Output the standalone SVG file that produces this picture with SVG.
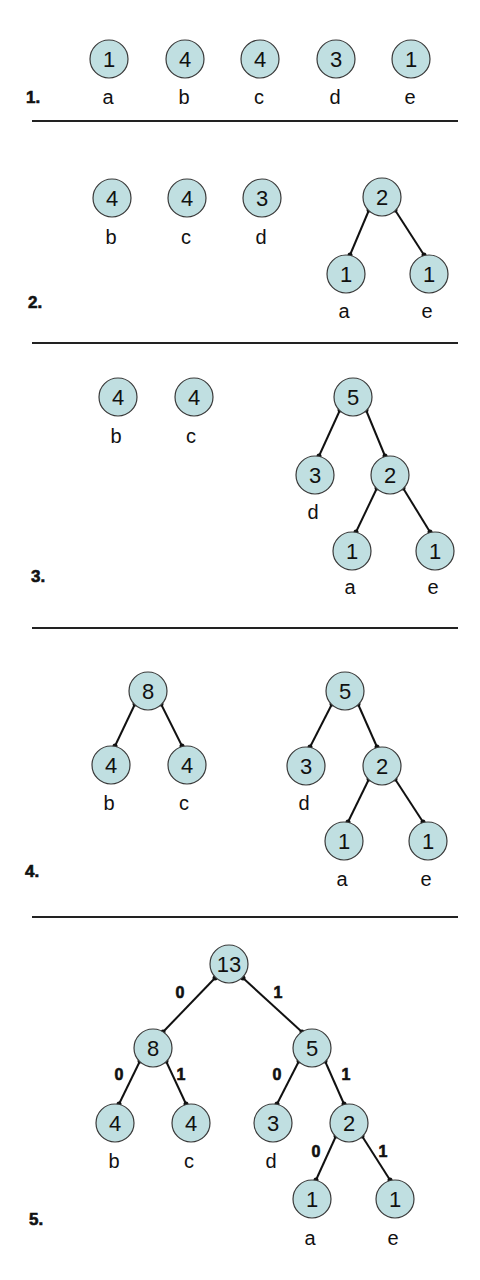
<svg xmlns="http://www.w3.org/2000/svg" width="480" height="1280" viewBox="0 0 480 1280">
<style>
.n circle{fill:#c0dfe1;stroke:#3a3a3a;stroke-width:1.2}
.n text{font-family:"Liberation Sans",Arial,sans-serif;font-size:22px;text-anchor:middle;fill:#111}
.lbl{font-family:"Liberation Sans",Arial,sans-serif;font-size:20px;text-anchor:middle;fill:#111}
.step{font-family:"Liberation Sans",Arial,sans-serif;font-size:17px;font-weight:bold;fill:#111;stroke:#111;stroke-width:0.6}
.bit{font-family:"Liberation Sans",Arial,sans-serif;font-size:16px;font-weight:bold;text-anchor:middle;fill:#111;stroke:#111;stroke-width:0.6}
.sep{stroke:#222;stroke-width:2}
#connectors line{stroke:#111;stroke-width:2}
#connectors circle{fill:#111}
</style>
<rect width="480" height="1280" fill="#fff"/>
<g id="separators">
<line class="sep" x1="32" y1="121" x2="458" y2="121"/>
<line class="sep" x1="32" y1="343" x2="458" y2="343"/>
<line class="sep" x1="32" y1="628" x2="458" y2="628"/>
<line class="sep" x1="32" y1="917" x2="458" y2="917"/>
</g>
<g id="steps">
<text class="step" x="26" y="103">1.</text>
<text class="step" x="28" y="308">2.</text>
<text class="step" x="31" y="582">3.</text>
<text class="step" x="25" y="877">4.</text>
<text class="step" x="29" y="1225">5.</text>
</g>
<g id="connectors">
<line x1="369" y1="210" x2="350" y2="255"/><circle cx="369" cy="210" r="2.5"/><circle cx="350" cy="255" r="2.5"/>
<line x1="395" y1="210" x2="424" y2="255"/><circle cx="395" cy="210" r="2.5"/><circle cx="424" cy="255" r="2.5"/>
<line x1="340" y1="410" x2="319" y2="456"/><circle cx="340" cy="410" r="2.5"/><circle cx="319" cy="456" r="2.5"/>
<line x1="366" y1="410" x2="385" y2="456"/><circle cx="366" cy="410" r="2.5"/><circle cx="385" cy="456" r="2.5"/>
<line x1="377" y1="488" x2="356" y2="532"/><circle cx="377" cy="488" r="2.5"/><circle cx="356" cy="532" r="2.5"/>
<line x1="403" y1="488" x2="430" y2="532"/><circle cx="403" cy="488" r="2.5"/><circle cx="430" cy="532" r="2.5"/>
<line x1="135" y1="704" x2="115" y2="746"/><circle cx="135" cy="704" r="2.5"/><circle cx="115" cy="746" r="2.5"/>
<line x1="161" y1="704" x2="182" y2="746"/><circle cx="161" cy="704" r="2.5"/><circle cx="182" cy="746" r="2.5"/>
<line x1="332" y1="704" x2="310" y2="747"/><circle cx="332" cy="704" r="2.5"/><circle cx="310" cy="747" r="2.5"/>
<line x1="358" y1="704" x2="377" y2="747"/><circle cx="358" cy="704" r="2.5"/><circle cx="377" cy="747" r="2.5"/>
<line x1="369" y1="779" x2="348" y2="822"/><circle cx="369" cy="779" r="2.5"/><circle cx="348" cy="822" r="2.5"/>
<line x1="395" y1="779" x2="423" y2="822"/><circle cx="395" cy="779" r="2.5"/><circle cx="423" cy="822" r="2.5"/>
<line x1="215" y1="978" x2="163" y2="1032"/><circle cx="215" cy="978" r="2.5"/><circle cx="163" cy="1032" r="2.5"/>
<line x1="243" y1="978" x2="302" y2="1032"/><circle cx="243" cy="978" r="2.5"/><circle cx="302" cy="1032" r="2.5"/>
<line x1="140" y1="1061" x2="119" y2="1104"/><circle cx="140" cy="1061" r="2.5"/><circle cx="119" cy="1104" r="2.5"/>
<line x1="166" y1="1061" x2="186" y2="1104"/><circle cx="166" cy="1061" r="2.5"/><circle cx="186" cy="1104" r="2.5"/>
<line x1="299" y1="1061" x2="277" y2="1104"/><circle cx="299" cy="1061" r="2.5"/><circle cx="277" cy="1104" r="2.5"/>
<line x1="325" y1="1061" x2="344" y2="1104"/><circle cx="325" cy="1061" r="2.5"/><circle cx="344" cy="1104" r="2.5"/>
<line x1="336" y1="1136" x2="316" y2="1180"/><circle cx="336" cy="1136" r="2.5"/><circle cx="316" cy="1180" r="2.5"/>
<line x1="362" y1="1136" x2="390" y2="1180"/><circle cx="362" cy="1136" r="2.5"/><circle cx="390" cy="1180" r="2.5"/>
</g>
<!-- Panel 1 -->
<g id="p1a" class="n"><circle cx="109" cy="59" r="19"/><text x="109" y="67">1</text></g>
<g id="p1b" class="n"><circle cx="185" cy="59" r="19"/><text x="185" y="67">4</text></g>
<g id="p1c" class="n"><circle cx="260" cy="59" r="19"/><text x="260" y="67">4</text></g>
<g id="p1d" class="n"><circle cx="336" cy="59" r="19"/><text x="336" y="67">3</text></g>
<g id="p1e" class="n"><circle cx="411" cy="59" r="19"/><text x="411" y="67">1</text></g>
<g id="p1labels">
<text class="lbl" x="108" y="104">a</text><text class="lbl" x="184" y="104">b</text><text class="lbl" x="259" y="104">c</text><text class="lbl" x="335" y="104">d</text><text class="lbl" x="410" y="104">e</text>
</g>
<!-- Panel 2 -->
<g id="p2b" class="n"><circle cx="112" cy="198" r="19"/><text x="112" y="206">4</text></g>
<g id="p2c" class="n"><circle cx="187" cy="198" r="19"/><text x="187" y="206">4</text></g>
<g id="p2d" class="n"><circle cx="262" cy="198" r="19"/><text x="262" y="206">3</text></g>
<g id="p2root" class="n"><circle cx="382" cy="197" r="19"/><text x="382" y="205">2</text></g>
<g id="p2a" class="n"><circle cx="346" cy="274" r="19"/><text x="346" y="282">1</text></g>
<g id="p2e" class="n"><circle cx="429" cy="274" r="19"/><text x="429" y="282">1</text></g>
<g id="p2labels">
<text class="lbl" x="111" y="244">b</text><text class="lbl" x="186" y="244">c</text><text class="lbl" x="261" y="244">d</text>
<text class="lbl" x="344" y="318">a</text><text class="lbl" x="427" y="318">e</text>
</g>
<!-- Panel 3 -->
<g id="p3b" class="n"><circle cx="118" cy="397" r="19"/><text x="118" y="405">4</text></g>
<g id="p3c" class="n"><circle cx="194" cy="397" r="19"/><text x="194" y="405">4</text></g>
<g id="p3root" class="n"><circle cx="353" cy="397" r="19"/><text x="353" y="405">5</text></g>
<g id="p3d" class="n"><circle cx="315" cy="475" r="19"/><text x="315" y="483">3</text></g>
<g id="p3n2" class="n"><circle cx="390" cy="475" r="19"/><text x="390" y="483">2</text></g>
<g id="p3a" class="n"><circle cx="352" cy="551" r="19"/><text x="352" y="559">1</text></g>
<g id="p3e" class="n"><circle cx="435" cy="551" r="19"/><text x="435" y="559">1</text></g>
<g id="p3labels">
<text class="lbl" x="116" y="443">b</text><text class="lbl" x="191" y="443">c</text>
<text class="lbl" x="313" y="519">d</text><text class="lbl" x="350" y="594">a</text><text class="lbl" x="433" y="594">e</text>
</g>
<!-- Panel 4 -->
<g id="p4n8" class="n"><circle cx="148" cy="691" r="19"/><text x="148" y="699">8</text></g>
<g id="p4b" class="n"><circle cx="111" cy="765" r="19"/><text x="111" y="773">4</text></g>
<g id="p4c" class="n"><circle cx="187" cy="765" r="19"/><text x="187" y="773">4</text></g>
<g id="p4root" class="n"><circle cx="345" cy="691" r="19"/><text x="345" y="699">5</text></g>
<g id="p4d" class="n"><circle cx="306" cy="766" r="19"/><text x="306" y="774">3</text></g>
<g id="p4n2" class="n"><circle cx="382" cy="766" r="19"/><text x="382" y="774">2</text></g>
<g id="p4a" class="n"><circle cx="344" cy="841" r="19"/><text x="344" y="849">1</text></g>
<g id="p4e" class="n"><circle cx="428" cy="841" r="19"/><text x="428" y="849">1</text></g>
<g id="p4labels">
<text class="lbl" x="109" y="810">b</text><text class="lbl" x="184" y="810">c</text>
<text class="lbl" x="304" y="810">d</text><text class="lbl" x="342" y="886">a</text><text class="lbl" x="426" y="886">e</text>
</g>
<!-- Panel 5 -->
<g id="p5root" class="n"><circle cx="229" cy="964" r="19"/><text x="229" y="972">13</text></g>
<g id="p5n8" class="n"><circle cx="153" cy="1048" r="19"/><text x="153" y="1056">8</text></g>
<g id="p5n5" class="n"><circle cx="312" cy="1048" r="19"/><text x="312" y="1056">5</text></g>
<g id="p5b" class="n"><circle cx="115" cy="1123" r="19"/><text x="115" y="1131">4</text></g>
<g id="p5c" class="n"><circle cx="191" cy="1123" r="19"/><text x="191" y="1131">4</text></g>
<g id="p5d" class="n"><circle cx="273" cy="1123" r="19"/><text x="273" y="1131">3</text></g>
<g id="p5n2" class="n"><circle cx="349" cy="1123" r="19"/><text x="349" y="1131">2</text></g>
<g id="p5a" class="n"><circle cx="312" cy="1199" r="19"/><text x="312" y="1207">1</text></g>
<g id="p5e" class="n"><circle cx="395" cy="1199" r="19"/><text x="395" y="1207">1</text></g>
<g id="p5labels">
<text class="lbl" x="114" y="1168">b</text><text class="lbl" x="189" y="1168">c</text><text class="lbl" x="271" y="1168">d</text>
<text class="lbl" x="310" y="1245">a</text><text class="lbl" x="393" y="1245">e</text>
</g>
<g id="bits">
<text class="bit" x="180" y="998">0</text><text class="bit" x="278" y="998">1</text>
<text class="bit" x="119" y="1080">0</text><text class="bit" x="181" y="1080">1</text>
<text class="bit" x="277" y="1080">0</text><text class="bit" x="346" y="1080">1</text>
<text class="bit" x="316" y="1157">0</text><text class="bit" x="383" y="1157">1</text>
</g>
</svg>
